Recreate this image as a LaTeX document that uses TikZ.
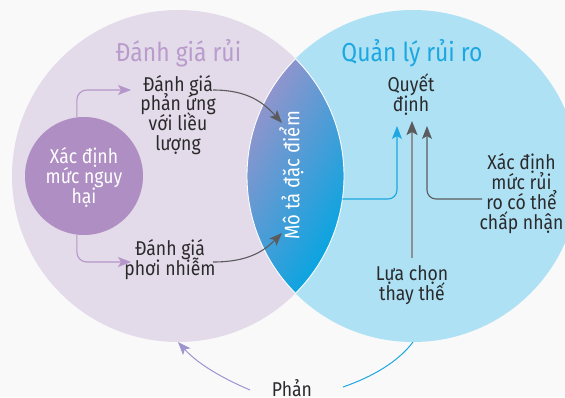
\documentclass[tikz,border=0pt]{standalone}
\usepackage{fontspec}
\setmainfont{Fira Sans}[FakeStretch=0.88]
\usetikzlibrary{arrows.meta}
\definecolor{bgc}{HTML}{F9F9FA}
\definecolor{lavc}{HTML}{E3DBE9}
\definecolor{skyc}{HTML}{AEE1F4}
\definecolor{hazc}{HTML}{AE8EC3}
\definecolor{titlel}{HTML}{B99BCC}
\definecolor{titler}{HTML}{1CA7E1}
\definecolor{txtc}{HTML}{2A2A2C}
\definecolor{purpc}{HTML}{B596CA}
\definecolor{darkc}{HTML}{5B5B5D}
\definecolor{bluec}{HTML}{1CA7E1}
\definecolor{grayc}{HTML}{8C8F93}
\definecolor{fbc}{HTML}{9B95CF}
\definecolor{lenstop}{HTML}{9A93CB}
\definecolor{lensbot}{HTML}{00A6E2}
\newcommand\bodyfnt{\fontsize{20}{19.8}\selectfont\lineskiplimit=-100pt\relax}
\newcommand\titlefnt{\fontsize{26}{28}\selectfont}
\newcommand\lensfnt{\fontsize{21}{22}\selectfont}
\tikzset{
  body/.style={font=\bodyfnt, text=txtc, align=center, inner sep=0pt, anchor=base},
  ttl/.style={font=\titlefnt, inner sep=0pt, anchor=base},
  tipS/.style={-{Stealth[length=13pt,width=10pt,inset=3pt]}},
  purparrow/.style={draw=purpc, line width=1.1pt, rounded corners=10pt, tipS},
  darkarrow/.style={draw=darkc, line width=1.1pt, tipS},
  bluearrow/.style={draw=bluec, line width=1.1pt, rounded corners=9pt, tipS},
  grayarrow/.style={draw=grayc, line width=1.4pt, -{Stealth[length=14pt,width=11pt,inset=3pt,color=darkc]}},
  darkarrowR/.style={draw=darkc, line width=1.1pt, rounded corners=9pt, tipS},
  fbarrow/.style={draw=fbc, line width=1pt, -{Stealth[length=13pt,width=10pt,inset=3pt,color=fbc!85!purpc]}},
  fbline/.style={draw=bluec, line width=1pt},
}
\begin{document}
\begin{tikzpicture}[x=1pt,y=-1pt]
\useasboundingbox (0,0) rectangle (565,397);
\fill[bgc] (0,0) rectangle (565,397);
% big circles
\node[circle, fill=lavc, minimum size=332pt, inner sep=0pt, outer sep=0pt] (assess) at (178,176) {};
\node[circle, fill=skyc, minimum size=332pt, inner sep=0pt, outer sep=0pt] (manage) at (413,176) {};
% lens
\begin{scope}
  \clip (178,176) circle[radius=166pt];
  \clip (413,176) circle[radius=166pt];
  \shade[left color=lenstop, right color=lensbot, shading angle=60] (246,58) rectangle (345,294);
\end{scope}
\begin{scope}
  \clip (178,176) circle[radius=166pt];
  \draw[white, line width=0.9pt] (413,176) circle[radius=166pt];
\end{scope}
\begin{scope}
  \clip (413,176) circle[radius=166pt];
  \draw[white, line width=0.9pt] (178,176) circle[radius=166pt];
\end{scope}
% hazard circle
\node[circle, fill=hazc, minimum size=118pt, inner sep=0pt, outer sep=0pt] (haz) at (84,176) {};
% titles
\node[ttl, text=titlel] (tl) at (178.5,61) {Đánh giá rủi};
\node[ttl, text=titler] (tr) at (412,61) {Quản lý rủi ro};
% texts (anchor base = baseline of last line)
\node[body] (dose) at (178,150.5) {Đánh giá\\phản ứng\\với liều\\lượng};
\node[body] (expo) at (170,275) {Đánh giá\\phơi nhiễm};
\node[body] (decide) at (411,111) {Quyết\\định};
\node[body] (accept) at (521.5,229) {Xác định\\mức rủi\\ro có thể\\chấp nhận};
\node[body] (alt) at (412,300) {Lựa chọn\\thay thế};
\node[body] (fb) at (292,396) {Phản};
\node[body, text=white] (hazt) at (84,203) {Xác định\\mức nguy\\hại};
\node[font=\lensfnt, text=white, rotate=90, inner sep=0pt] (lenst) at (291.5,175.5) {Mô tả đặc điểm};
% coordinates for free ends
\coordinate (doseIn) at (131,90);
\coordinate (expoIn) at (131,262);
\coordinate (doseOut) at (213,90);
\coordinate (expoOut) at (213,262);
\coordinate (lensTop) at (282,123);
\coordinate (lensBot) at (282,233);
\coordinate (lensR) at (342.4,199);
\coordinate (blueTip) at (397,126);
\coordinate (grayTip) at (412,121);
\coordinate (grayTipR) at (427,126);
\coordinate (acceptL) at (482,199);
\coordinate (fbL) at (250,390);
\coordinate (fbR) at (343,387);
% connectors
\draw[purparrow] (haz.97) |- (doseIn);
\draw[purparrow] (haz.263) |- (expoIn);
\draw[darkarrow] (doseOut) .. controls (247,90) and (263,102) .. (lensTop);
\draw[darkarrow] (expoOut) .. controls (247,262) and (263,252) .. (lensBot);
\draw[bluearrow] (lensR) -| (blueTip);
\draw[grayarrow] ([yshift=7pt]alt.north) -- (grayTip);
\draw[darkarrowR] (acceptL) -| (grayTipR);
\draw[fbarrow] (fbL) .. controls (222,378) and (198,364) .. (assess.south);
\draw[fbline] (fbR) .. controls (372,377) and (398,362) .. (manage.south);
\end{tikzpicture}
\end{document}
